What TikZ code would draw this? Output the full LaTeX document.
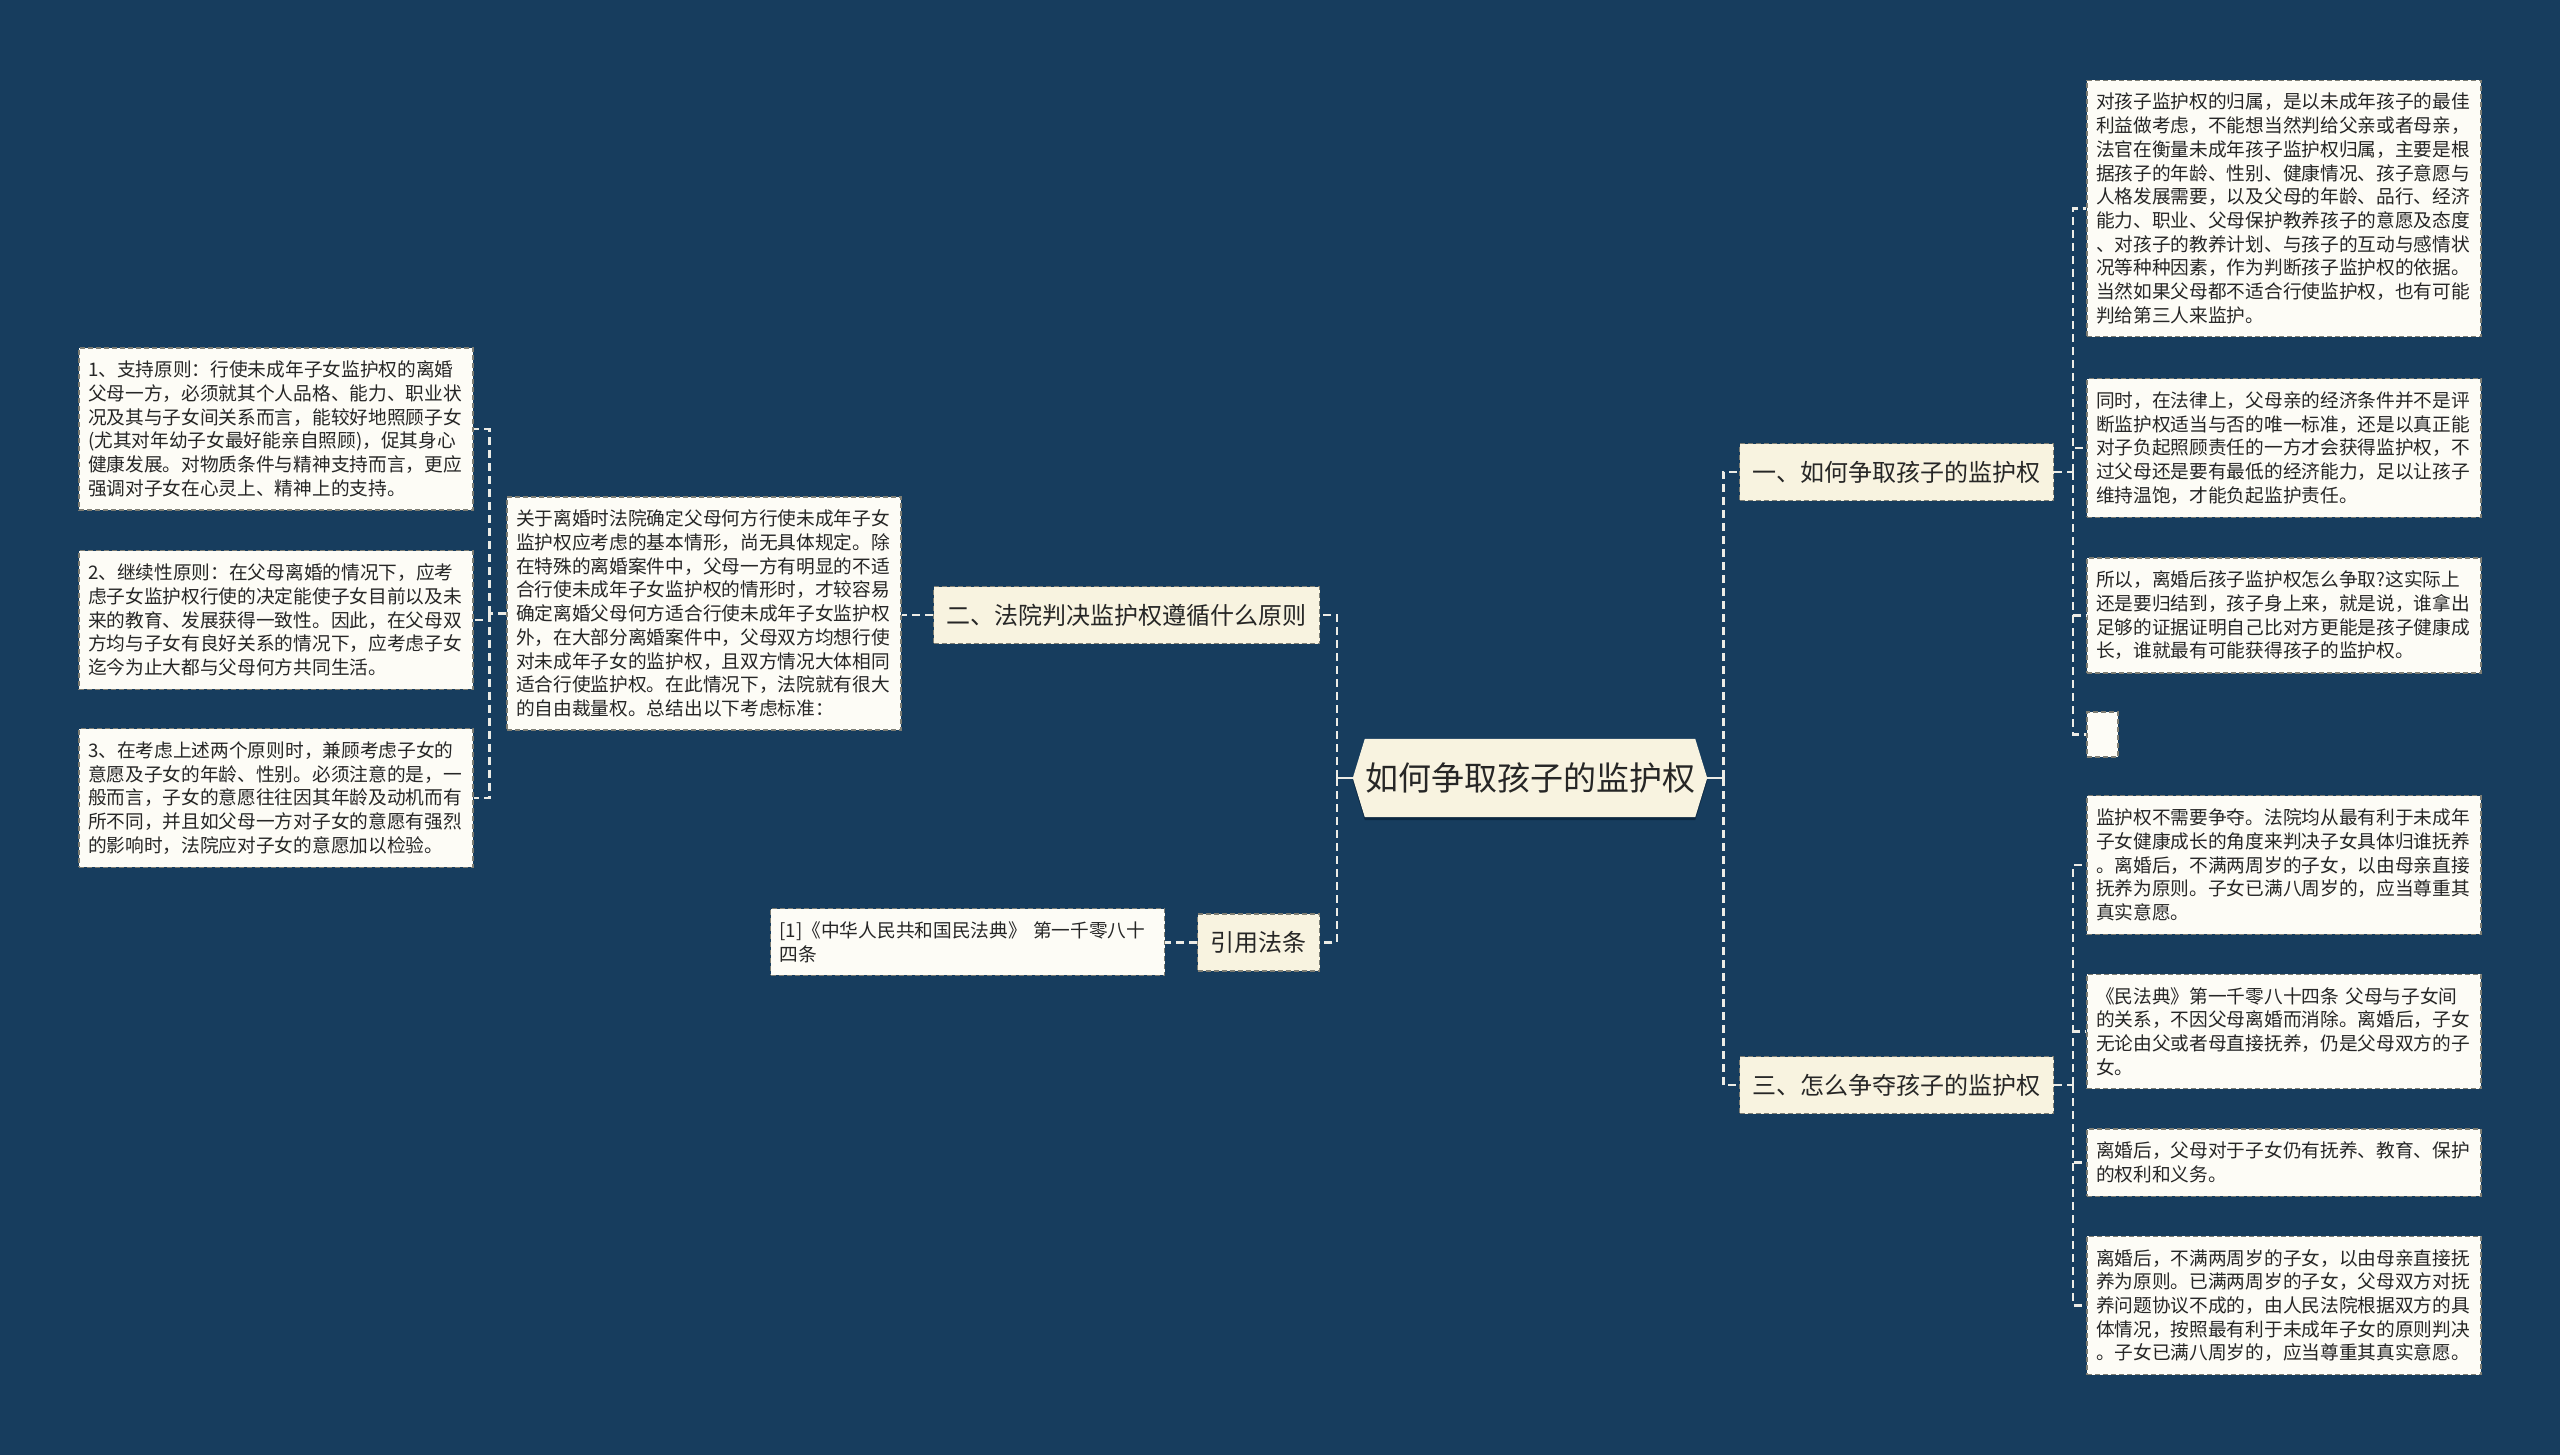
\documentclass[tikz,border=0pt]{standalone}
\usepackage{fontspec}
\newfontfamily\cjk{Noto Sans CJK SC}
\usetikzlibrary{backgrounds}
\definecolor{bg}{RGB}{23,61,94}
\definecolor{shadowcol}{RGB}{12,40,66}
\definecolor{linecol}{RGB}{236,236,230}
\definecolor{topicfill}{RGB}{248,243,224}
\definecolor{leaffill}{RGB}{253,252,246}
\definecolor{bordercol}{RGB}{125,125,115}
\definecolor{textcol}{RGB}{38,38,38}
\tikzset{
  leaf/.style={draw=bordercol, fill=leaffill, line width=1.2pt, dash pattern=on 5pt off 3pt,
    text width=376pt, inner xsep=9pt, inner ysep=13pt, align=left, text=textcol,
    font=\cjk\fontsize{18.7pt}{23.7pt}\selectfont},
  topic/.style={draw=bordercol, fill=topicfill, line width=1.2pt, dash pattern=on 5pt off 3pt,
    inner xsep=13pt, inner ysep=0pt, minimum height=57pt, text=textcol,
    font=\cjk\fontsize{24pt}{28pt}\selectfont},
  centraltext/.style={minimum width=328pt, minimum height=78pt, inner sep=0pt, text=textcol,
    font=\cjk\fontsize{33pt}{40pt}\selectfont},
  conn/.style={draw=linecol, line width=2.6pt, dash pattern=on 8pt off 5pt},
  stub/.style={draw=linecol, line width=2.6pt},
}
\begin{document}
\begin{tikzpicture}[x=1pt,y=-1pt]
\begin{scope}[on background layer]
\fill[bg] (0,0) rectangle (2560,1455);
\end{scope}
\useasboundingbox (0,0) rectangle (2560,1455);

% central
\node[centraltext] (c) at (1530,778) {如何争取孩子的监护权};
\begin{scope}[on background layer]
\fill[shadowcol] ([xshift=-12pt,yshift=-3pt]c.west) -- ([yshift=-3pt]c.north west) -- ([yshift=-3pt]c.north east) -- ([xshift=12pt,yshift=-3pt]c.east) -- ([yshift=-3pt]c.south east) -- ([yshift=-3pt]c.south west) -- cycle;
\fill[topicfill] ([xshift=-12pt]c.west) -- (c.north west) -- (c.north east) -- ([xshift=12pt]c.east) -- (c.south east) -- (c.south west) -- cycle;
\end{scope}

% level 1
\node[topic] (n1) at (1896.5,472) {一、如何争取孩子的监护权};
\node[topic] (n3) at (1896.5,1085) {三、怎么争夺孩子的监护权};
\node[topic] (n2) at (1126.5,615) {二、法院判决监护权遵循什么原则};
\node[topic] (nr) at (1258.5,942.5) {引用法条};

% right leaves of n1
\node[leaf] (R1) at (2284,208.5) {对孩子监护权的归属，是以未成年孩子的最佳\\利益做考虑，不能想当然判给父亲或者母亲，\\法官在衡量未成年孩子监护权归属，主要是根\\据孩子的年龄、性别、健康情况、孩子意愿与\\人格发展需要，以及父母的年龄、品行、经济\\能力、职业、父母保护教养孩子的意愿及态度\\、对孩子的教养计划、与孩子的互动与感情状\\况等种种因素，作为判断孩子监护权的依据。\\当然如果父母都不适合行使监护权，也有可能\\判给第三人来监护。};
\node[leaf] (R2) at (2284,448) {同时，在法律上，父母亲的经济条件并不是评\\断监护权适当与否的唯一标准，还是以真正能\\对子负起照顾责任的一方才会获得监护权，不\\过父母还是要有最低的经济能力，足以让孩子\\维持温饱，才能负起监护责任。};
\node[leaf] (R3) at (2284,615.5) {所以，离婚后孩子监护权怎么争取?这实际上\\还是要归结到，孩子身上来，就是说，谁拿出\\足够的证据证明自己比对方更能是孩子健康成\\长，谁就最有可能获得孩子的监护权。};
\node[draw=bordercol, fill=leaffill, line width=1.2pt, dash pattern=on 5pt off 3pt, minimum width=31pt, minimum height=45pt, inner sep=0pt] (R4) at (2102.5,734.5) {};

% right leaves of n3
\node[leaf] (R5) at (2284,865) {监护权不需要争夺。法院均从最有利于未成年\\子女健康成长的角度来判决子女具体归谁抚养\\。离婚后，不满两周岁的子女，以由母亲直接\\抚养为原则。子女已满八周岁的，应当尊重其\\真实意愿。};
\node[leaf] (R6) at (2284,1031.5) {《民法典》第一千零八十四条 父母与子女间\\的关系，不因父母离婚而消除。离婚后，子女\\无论由父或者母直接抚养，仍是父母双方的子\\女。};
\node[leaf] (R7) at (2284,1162.5) {离婚后，父母对于子女仍有抚养、教育、保护\\的权利和义务。};
\node[leaf] (R8) at (2284,1305.5) {离婚后，不满两周岁的子女，以由母亲直接抚\\养为原则。已满两周岁的子女，父母双方对抚\\养问题协议不成的，由人民法院根据双方的具\\体情况，按照最有利于未成年子女的原则判决\\。子女已满八周岁的，应当尊重其真实意愿。};

% left leaves
\node[leaf] (L0) at (704,613.5) {关于离婚时法院确定父母何方行使未成年子女\\监护权应考虑的基本情形，尚无具体规定。除\\在特殊的离婚案件中，父母一方有明显的不适\\合行使未成年子女监护权的情形时，才较容易\\确定离婚父母何方适合行使未成年子女监护权\\外，在大部分离婚案件中，父母双方均想行使\\对未成年子女的监护权，且双方情况大体相同\\适合行使监护权。在此情况下，法院就有很大\\的自由裁量权。总结出以下考虑标准：};
\node[leaf] (L1) at (276,429) {1、支持原则：行使未成年子女监护权的离婚\\父母一方，必须就其个人品格、能力、职业状\\况及其与子女间关系而言，能较好地照顾子女\\(尤其对年幼子女最好能亲自照顾)，促其身心\\健康发展。对物质条件与精神支持而言，更应\\强调对子女在心灵上、精神上的支持。};
\node[leaf] (L2) at (276,620) {2、继续性原则：在父母离婚的情况下，应考\\虑子女监护权行使的决定能使子女目前以及未\\来的教育、发展获得一致性。因此，在父母双\\方均与子女有良好关系的情况下，应考虑子女\\迄今为止大都与父母何方共同生活。};
\node[leaf] (L3) at (276,798) {3、在考虑上述两个原则时，兼顾考虑子女的\\意愿及子女的年龄、性别。必须注意的是，一\\般而言，子女的意愿往往因其年龄及动机而有\\所不同，并且如父母一方对子女的意愿有强烈\\的影响时，法院应对子女的意愿加以检验。};
\node[leaf] (RL) at (967.5,942) {[1]《中华人民共和国民法典》 第一千零八十\\四条};

% connectors from central
\coordinate (cl) at ([xshift=-28pt]c.west);
\coordinate (cr) at ([xshift=28pt]c.east);
\draw[stub] ([xshift=-12pt]c.west) -- (cl);
\draw[stub] ([xshift=12pt]c.east) -- (cr);
\draw[conn] (cl) |- (n2.east);
\draw[conn] (cl) |- (nr.east);
\draw[conn] (cr) |- (n1.west);
\draw[conn] (cr) |- (n3.west);

% n1 children
\coordinate (r1) at ([xshift=19pt]n1.east);
\draw[conn] (n1.east) -- (r1);
\draw[conn] (r1) |- (R1.west);
\draw[conn] (r1) |- (R2.west);
\draw[conn] (r1) |- (R3.west);
\draw[conn] (r1) |- (R4.west);

% n3 children
\coordinate (r3) at ([xshift=19pt]n3.east);
\draw[conn] (n3.east) -- (r3);
\draw[conn] (r3) |- (R5.west);
\draw[conn] (r3) |- (R6.west);
\draw[conn] (r3) |- (R7.west);
\draw[conn] (r3) |- (R8.west);

% n2 children
\draw[conn] (n2.west) -- (n2.west -| L0.east);
\coordinate (l0) at ([xshift=-17pt]L0.west);
\draw[conn] (L0.west) -- (l0);
\draw[conn] (l0) |- (L1.east);
\draw[conn] (l0) |- (L2.east);
\draw[conn] (l0) |- (L3.east);

% reference
\draw[conn] (nr.west) -- (nr.west -| RL.east);
\end{tikzpicture}
\end{document}
